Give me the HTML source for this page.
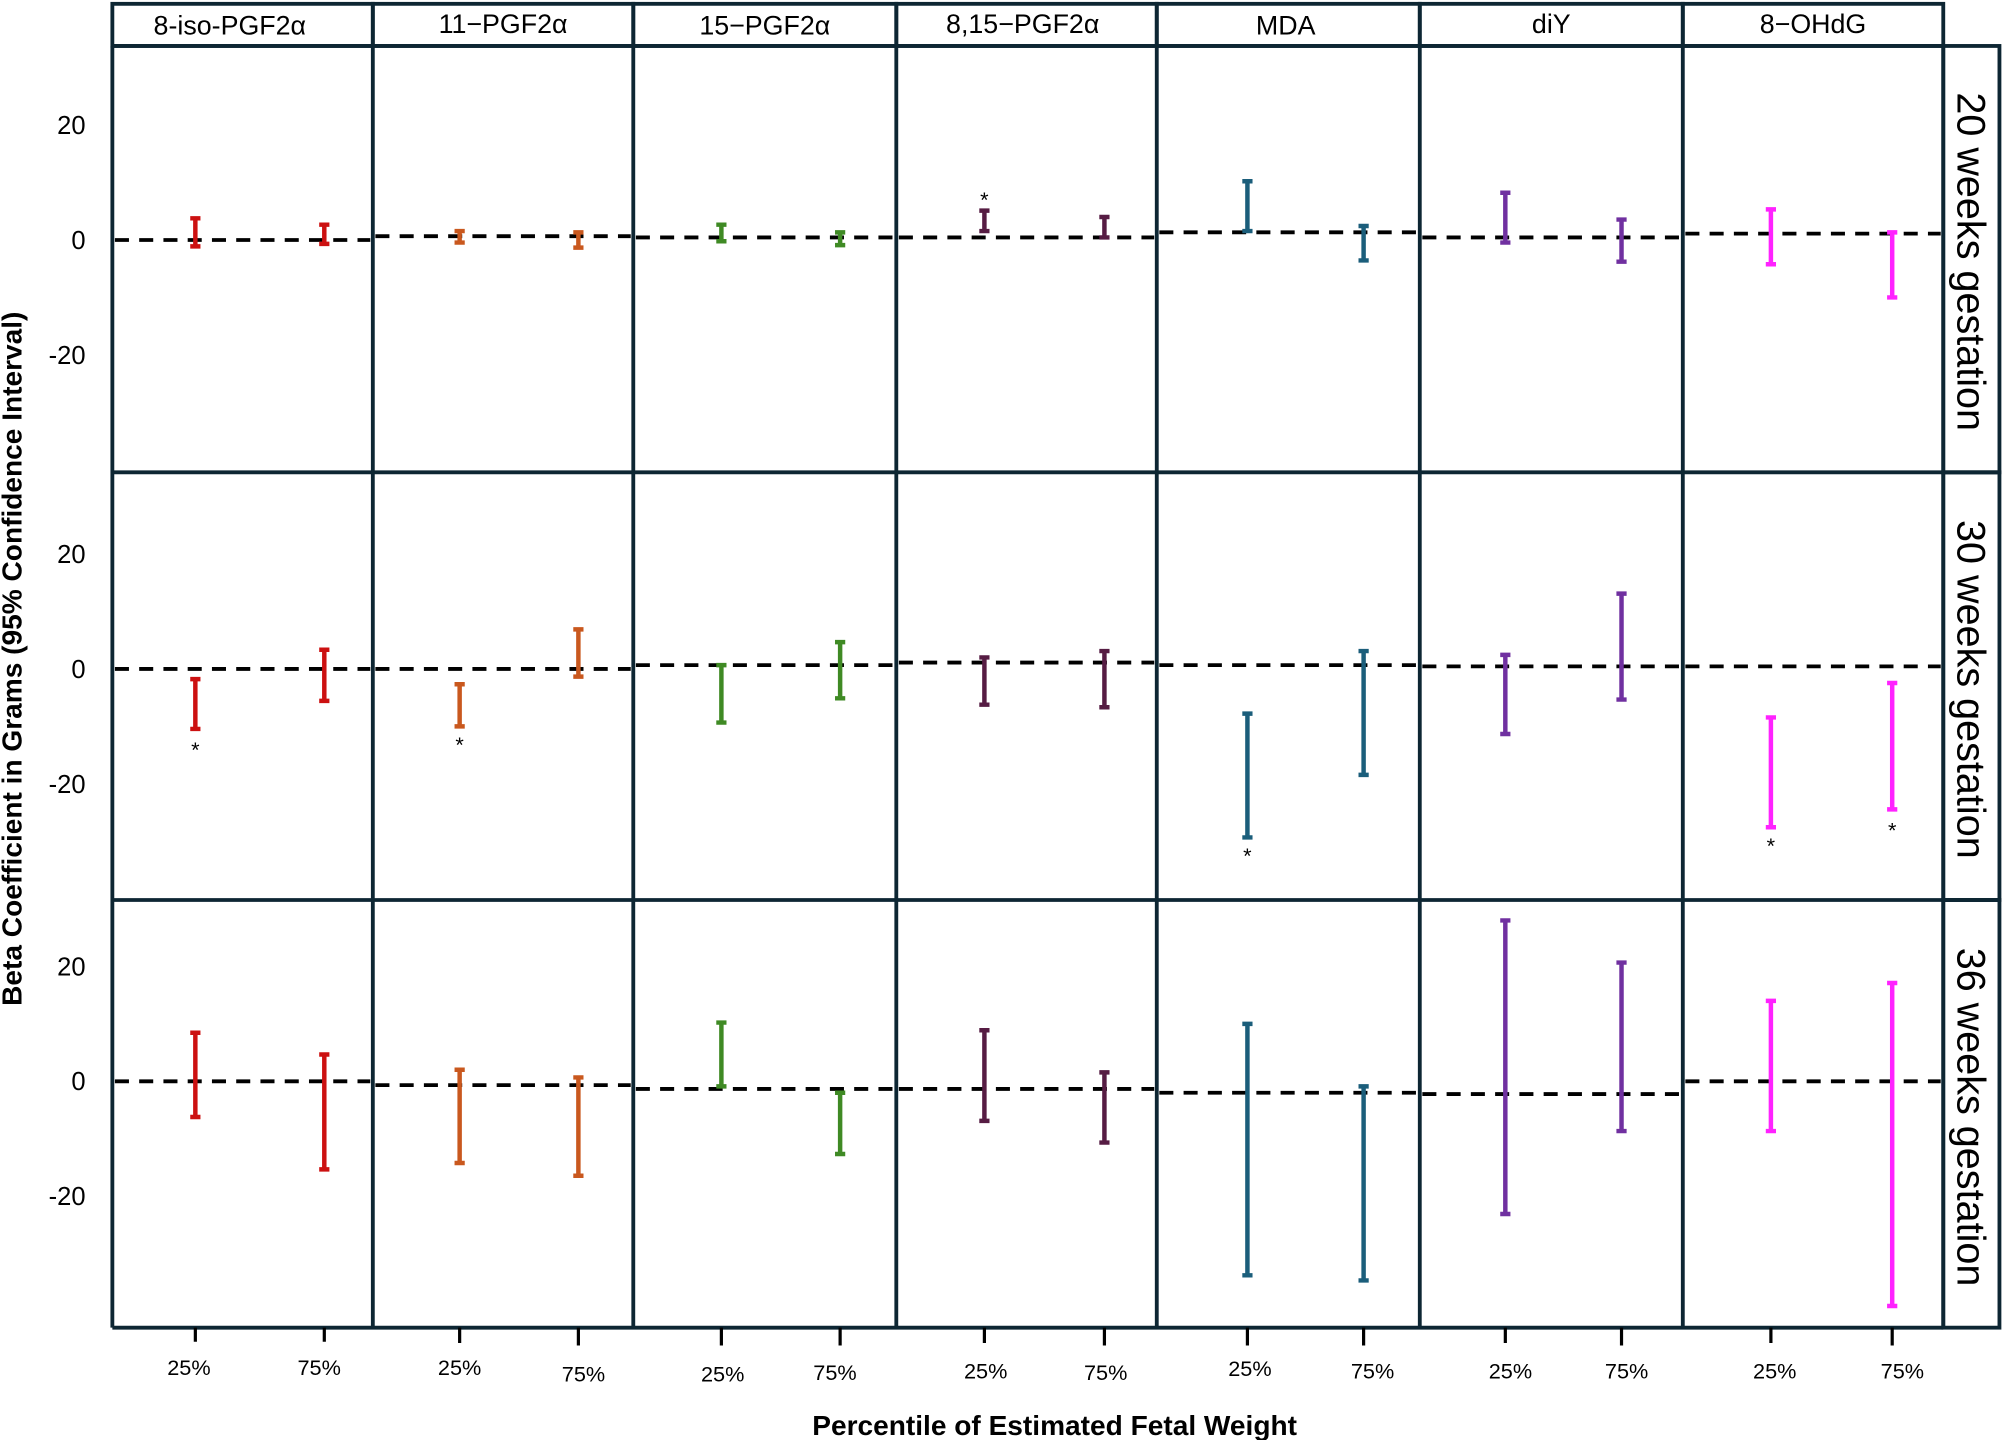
<!DOCTYPE html>
<html><head><meta charset="utf-8"><style>html,body{margin:0;padding:0;background:#fff}svg{display:block}</style></head>
<body>
<svg width="2002" height="1440" viewBox="0 0 1568 1128" preserveAspectRatio="none" xmlns="http://www.w3.org/2000/svg" font-family="Liberation Sans, Arial, sans-serif">
<rect width="1568" height="1128" fill="#fff"/>
<g fill="none" stroke="#0d2633" stroke-width="3">
<rect x="88" y="3" width="204" height="33"/><rect x="292" y="3" width="204" height="33"/><rect x="496" y="3" width="206" height="33"/>
<rect x="702" y="3" width="204" height="33"/><rect x="906" y="3" width="206" height="33"/><rect x="1112" y="3" width="206" height="33"/><rect x="1318" y="3" width="204" height="33"/>
<path d="M88 36V1040 M292 36V1040 M496 36V1040 M702 36V1040 M906 36V1040 M1112 36V1040 M1318 36V1040 M1522 36V1040 M88 36H1522 M88 370H1566 M88 705H1566 M88 1040H1522"/>
<rect x="1522" y="36" width="44" height="334"/><rect x="1522" y="370" width="44" height="335"/><rect x="1522" y="705" width="44" height="335"/>
</g>
<g font-size="21" text-anchor="middle" fill="#000">
<text x="180" y="27">8-iso-PGF2α</text><text x="394" y="26">11−PGF2α</text><text x="599" y="27">15−PGF2α</text>
<text x="801" y="26">8,15−PGF2α</text><text x="1007" y="27">MDA</text><text x="1215" y="26">diY</text><text x="1420" y="26">8−OHdG</text>
</g>
<g font-size="20" text-anchor="end" fill="#000">
<text x="67" y="105">20</text><text x="67" y="195">0</text><text x="67" y="285">-20</text>
<text x="67" y="441">20</text><text x="67" y="531">0</text><text x="67" y="621">-20</text>
<text x="67" y="764">20</text><text x="67" y="854">0</text><text x="67" y="944">-20</text>
</g>
<g font-size="31" fill="#000" text-anchor="middle">
<text transform="translate(1533,205) rotate(90)">20 weeks gestation</text>
<text transform="translate(1533,540) rotate(90)">30 weeks gestation</text>
<text transform="translate(1533,875) rotate(90)">36 weeks gestation</text>
</g>
<g stroke="#000" stroke-width="3" stroke-dasharray="11 8" fill="none">
<path d="M90 188H290 M294 185H494 M498 186H700 M704 186H904 M908 182H1110 M1114 186H1316 M1320 183H1520"/>
<path d="M90 524H290 M294 524H494 M498 521H700 M704 519H904 M908 521H1110 M1114 522H1316 M1320 522H1520"/>
<path d="M90 847H290 M294 850H494 M498 853H700 M704 853H904 M908 856H1110 M1114 857H1316 M1320 847H1520"/>
</g>
<g fill="none" stroke-width="3.5">
<g stroke="#cc1111"><path d="M149 171H157M153 171V193M149 193H157 M250 176H258M254 176V191M250 191H258"/>
<path d="M149 532H157M153 532V571M149 571H157 M250 509H258M254 509V549M250 549H258"/>
<path d="M149 809H157M153 809V875M149 875H157 M250 826H258M254 826V916M250 916H258"/></g>
<g stroke="#c9581e"><path d="M356 181H364M360 181V190M356 190H364 M449 182H457M453 182V194M449 194H457"/>
<path d="M356 536H364M360 536V569M356 569H364 M449 493H457M453 493V530M449 530H457"/>
<path d="M356 838H364M360 838V911M356 911H364 M449 844H457M453 844V921M449 921H457"/></g>
<g stroke="#3f8a24"><path d="M561 176H569M565 176V189M561 189H569 M654 182H662M658 182V192M654 192H662"/>
<path d="M561 521H569M565 521V566M561 566H569 M654 503H662M658 503V547M654 547H662"/>
<path d="M561 801H569M565 801V851M561 851H569 M654 856H662M658 856V904M654 904H662"/></g>
<g stroke="#561c43"><path d="M767 165H775M771 165V181M767 181H775 M861 170H869M865 170V186M861 186H869"/>
<path d="M767 515H775M771 515V552M767 552H775 M861 510H869M865 510V554M861 554H869"/>
<path d="M767 807H775M771 807V878M767 878H775 M861 840H869M865 840V895M861 895H869"/></g>
<g stroke="#1b5e7b"><path d="M973 142H981M977 142V181M973 181H981 M1064 177H1072M1068 177V204M1064 204H1072"/>
<path d="M973 559H981M977 559V656M973 656H981 M1064 510H1072M1068 510V607M1064 607H1072"/>
<path d="M973 802H981M977 802V999M973 999H981 M1064 851H1072M1068 851V1003M1064 1003H1072"/></g>
<g stroke="#7030a0"><path d="M1175 151H1183M1179 151V190M1175 190H1183 M1266 172H1274M1270 172V205M1266 205H1274"/>
<path d="M1175 513H1183M1179 513V575M1175 575H1183 M1266 465H1274M1270 465V548M1266 548H1274"/>
<path d="M1175 721H1183M1179 721V951M1175 951H1183 M1266 754H1274M1270 754V886M1266 886H1274"/></g>
<g stroke="#ff22ff"><path d="M1383 164H1391M1387 164V207M1383 207H1391 M1478 182H1486M1482 182V233M1478 233H1486"/>
<path d="M1383 562H1391M1387 562V648M1383 648H1391 M1478 535H1486M1482 535V634M1478 634H1486"/>
<path d="M1383 784H1391M1387 784V886M1383 886H1391 M1478 770H1486M1482 770V1023M1478 1023H1486"/></g>
</g>
<g font-size="17" text-anchor="middle" fill="#000">
<text x="771" y="162">*</text><text x="153" y="593">*</text><text x="360" y="589">*</text>
<text x="977" y="676">*</text><text x="1387" y="668">*</text><text x="1482" y="656">*</text>
</g>
<g stroke="#000" stroke-width="2.5">
<path d="M153 1040V1051M254 1040V1051M360 1040V1052M453 1040V1054M565 1040V1054M658 1040V1054M771 1040V1052M865 1040V1054M977 1040V1054M1068 1040V1054M1179 1040V1052M1270 1040V1054M1387 1040V1052M1482 1040V1054"/>
</g>
<g font-size="17" text-anchor="middle" fill="#000">
<text x="148" y="1077">25%</text><text x="250" y="1077">75%</text><text x="360" y="1077">25%</text><text x="457" y="1082">75%</text>
<text x="566" y="1082">25%</text><text x="654" y="1081">75%</text><text x="772" y="1080">25%</text><text x="866" y="1081">75%</text>
<text x="979" y="1078">25%</text><text x="1075" y="1080">75%</text><text x="1183" y="1080">25%</text><text x="1274" y="1080">75%</text>
<text x="1390" y="1080">25%</text><text x="1490" y="1080">75%</text>
</g>
<text x="826" y="1124" font-size="22" font-weight="bold" text-anchor="middle">Percentile of Estimated Fetal Weight</text>
<text transform="translate(17,516) rotate(-90)" font-size="22" font-weight="bold" text-anchor="middle">Beta Coefficient in Grams (95% Confidence Interval)</text>
</svg>
</body></html>
